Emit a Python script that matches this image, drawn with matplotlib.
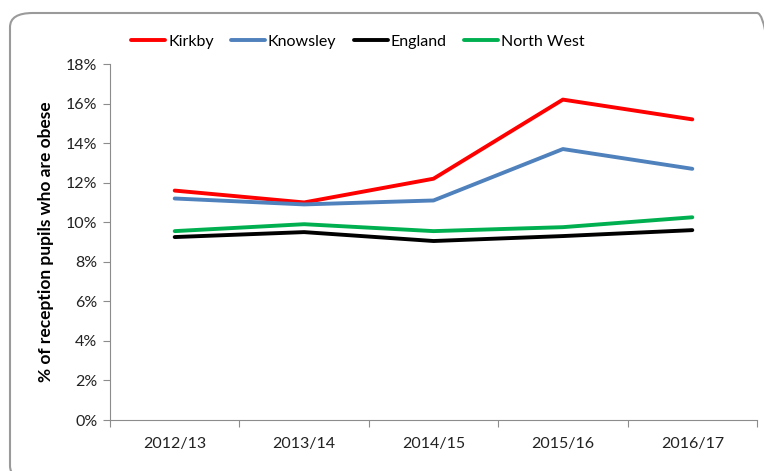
import numpy as np
import matplotlib.pyplot as plt
from matplotlib.patches import FancyBboxPatch
from matplotlib.ticker import PercentFormatter

plt.rcParams['font.family'] = ['Lato', 'DejaVu Sans']

years = ['2012/13', '2013/14', '2014/15', '2015/16', '2016/17']
kirkby = [11.6, 11.0, 12.2, 16.2, 15.2]
knowsley = [11.2, 10.9, 11.1, 13.7, 12.7]
england = [9.25, 9.5, 9.05, 9.3, 9.6]
north_west = [9.55, 9.9, 9.55, 9.75, 10.25]

series = [('Kirkby', kirkby, '#FF0000'),
          ('Knowsley', knowsley, '#4F81BD'),
          ('England', england, '#000000'),
          ('North West', north_west, '#00B050')]

fig = plt.figure(figsize=(7.64, 4.71), dpi=100)

# rounded chart border, like the Excel chart area
border = FancyBboxPatch((10 / 764, 1 - 480 / 471), 770 / 764, 467 / 471,
                        boxstyle='round,pad=0,rounding_size=0.03',
                        transform=fig.transFigure, facecolor='none',
                        edgecolor='#9a9a9a', linewidth=1.5)
fig.patches.append(border)

ax = fig.add_axes([110 / 764, 1 - 420 / 471, 647 / 764, 356 / 471])
x = np.arange(1, len(years) + 1)
for name, vals, col in series:
    ax.plot(x, vals, color=col, linewidth=2.8, label=name, solid_capstyle='round')

ax.set_xlim(0.5, len(years) + 0.5)
ax.set_ylim(0, 18)
ax.set_yticks(np.arange(0, 19, 2))
ax.yaxis.set_major_formatter(PercentFormatter(decimals=0))

# ticks between categories, labels at the centres
ax.set_xticks(np.arange(0.5, len(years) + 1, 1))
ax.set_xticklabels([])
ax.set_xticks(x, minor=True)
ax.set_xticklabels(years, minor=True)
ax.tick_params(axis='x', which='minor', length=0, pad=12, labelsize=11.5, colors='#222222')
ax.tick_params(axis='x', which='major', length=5, color='#8c8c8c')
ax.tick_params(axis='y', length=5, color='#8c8c8c', labelsize=11.5, labelcolor='#222222', pad=4)

for side in ['top', 'right']:
    ax.spines[side].set_visible(False)
for side in ['left', 'bottom']:
    ax.spines[side].set_color('#8c8c8c')

ax.set_ylabel('% of reception pupils who are obese', fontsize=12.5, fontweight='bold', labelpad=9)

fig.legend(loc='center', bbox_to_anchor=(358 / 764, 1 - 42 / 471), ncol=4, frameon=False,
           fontsize=11.5, handlelength=2.1, handletextpad=0.2, columnspacing=1.1)

fig.savefig('out.png', dpi=100)
